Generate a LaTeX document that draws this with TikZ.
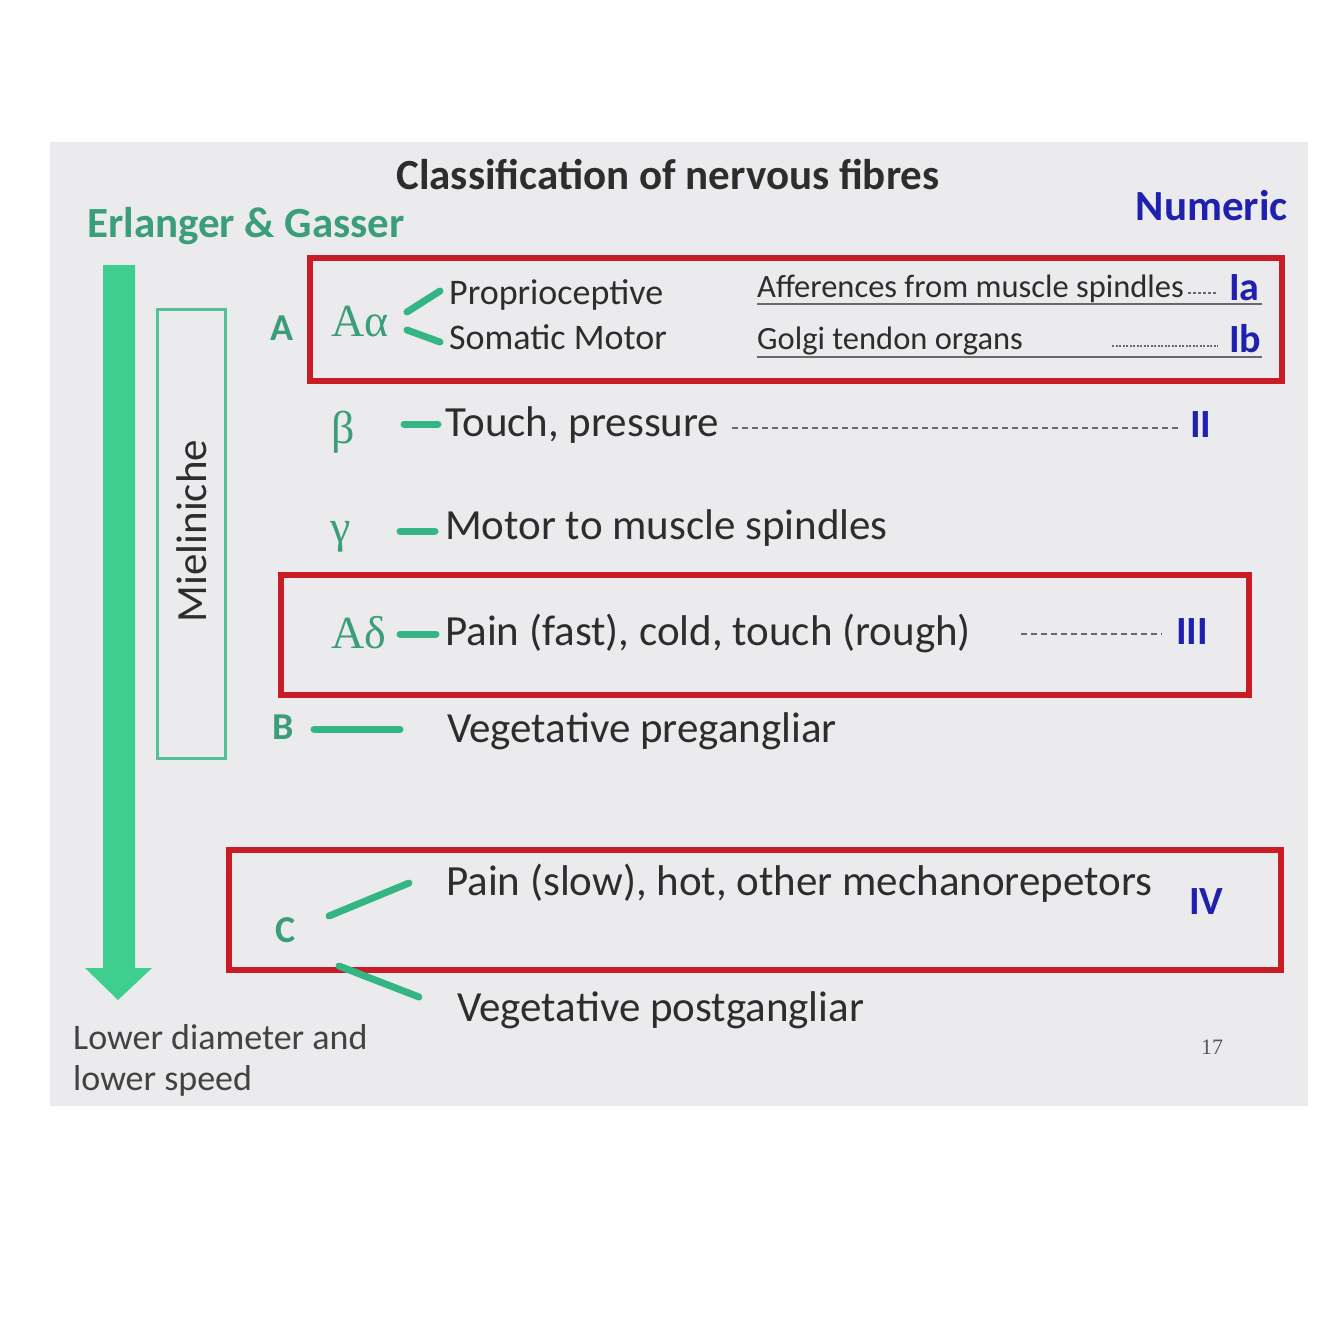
\documentclass[tikz,border=0pt]{standalone}
\usepackage{fontspec}
\setmainfont{Carlito}
\newfontfamily\grk{Liberation Serif}
\newfontfamily\pgnum{Liberation Serif}
\definecolor{slidebg}{RGB}{235,235,237}
\definecolor{arrowgreen}{RGB}{62,207,142}
\definecolor{txtgreen}{RGB}{58,158,122}
\definecolor{strokegreen}{RGB}{52,182,132}
\definecolor{boxred}{RGB}{200,28,38}
\definecolor{numblue}{RGB}{32,32,175}
\definecolor{txtdark}{RGB}{45,45,45}
\definecolor{dashgray}{RGB}{105,105,105}
\tikzset{
  redbox/.style={draw=boxred, line width=5.5pt},
  tick/.style={draw=strokegreen, line width=7pt, line cap=round},
  lbl/.style={inner sep=0pt, anchor=west, text=txtdark, font=\fontsize{43}{46}\selectfont},
  smlbl/.style={inner sep=0pt, anchor=west, text=txtdark, font=\fontsize{36}{40}\selectfont},
  undl/.style={inner sep=0pt, anchor=west, text=txtdark, font=\fontsize{32.5}{36}\selectfont},
  grklbl/.style={inner sep=0pt, anchor=west, text=txtgreen, font=\grk\fontsize{46}{50}\selectfont},
  grnlbl/.style={inner sep=0pt, anchor=west, text=txtgreen, font=\bfseries\fontsize{38}{42}\selectfont},
  numlbl/.style={inner sep=0pt, anchor=west, text=numblue, font=\bfseries\fontsize{40}{44}\selectfont},
  dashln/.style={draw=dashgray, line width=2.5pt, dash pattern=on 6pt off 4pt},
  undline/.style={draw=dashgray, line width=1.8pt}
}
\begin{document}
\begin{tikzpicture}[x=1pt,y=-1pt]
\useasboundingbox (0,0) rectangle (1334,1334);
\fill[white] (0,0) rectangle (1334,1334);
\fill[slidebg] (50,142) rectangle (1308,1106);

% titles
\node[inner sep=0pt, text=txtdark, font=\bfseries\fontsize{43}{46}\selectfont] (title) at (668,175) {Classification of nervous fibres};
\node[inner sep=0pt, anchor=west, text=txtgreen, font=\bfseries\fontsize{43}{46}\selectfont] (eg) at (87,226) {Erlanger \& Gasser};
\node[inner sep=0pt, anchor=east, text=numblue, font=\bfseries\fontsize{43}{46}\selectfont] (numeric) at (1288,206) {Numeric};

% big arrow
\fill[arrowgreen] (103,265) -- (135,265) -- (135,968) -- (152,968) -- (118,1000) -- (85,968) -- (103,968) -- cycle;

% Mieliniche box
\node[draw=strokegreen!85, line width=3pt, minimum width=68pt, minimum height=449pt, inner sep=0pt] (miel) at (191,533.5) {};
\node[rotate=90, inner sep=0pt, text=txtdark, font=\fontsize{43}{46}\selectfont] (mieltxt) at (192,531) {Mieliniche};

% red boxes
\draw[redbox] (310,258) rectangle (1282,381);
\draw[redbox] (281,575) rectangle (1249,695);
\draw[redbox] (229,850) rectangle (1281,970);

% Row A alpha
\node[grnlbl] (A) at (270,328) {A};
\node[grklbl] (Aa) at (331,322) {Aα};
\coordinate (aa1) at (407,312);
\coordinate (aa2) at (440,291);
\coordinate (aa3) at (407,330);
\coordinate (aa4) at (440,342);
\draw[tick] (aa1) -- (aa2);
\draw[tick] (aa3) -- (aa4);
\node[smlbl] (prop) at (449,295) {Proprioceptive};
\node[smlbl] (som) at (449,337) {Somatic Motor};
\node[undl] (aff) at (757,289) {Afferences from muscle spindles};
\node[undl] (golgi) at (757,341) {Golgi tendon organs};
\coordinate (u1a) at (757,304);
\coordinate (u1b) at (1262,304);
\coordinate (u2a) at (757,357);
\coordinate (u2b) at (1262,357);
\draw[undline] (u1a) -- (u1b);
\draw[undline] (u2a) -- (u2b);
\coordinate (d1a) at (1188,293);
\coordinate (d1b) at (1218,293);
\draw[dashgray, line width=1.8pt, dash pattern=on 3pt off 2pt] (d1a) -- (d1b);
\coordinate (d2a) at (1112,346);
\coordinate (d2b) at (1218,346);
\draw[dashgray, line width=1.5pt, dash pattern=on 2pt off 1.5pt] (d2a) -- (d2b);
\node[numlbl] (Ia) at (1229,288) {Ia};
\node[numlbl] (Ib) at (1229,339) {Ib};

% Row beta
\node[grklbl] (beta) at (331,432) {β};
\coordinate (b1) at (404,424);
\coordinate (b2) at (438,424);
\draw[tick] (b1) -- (b2);
\node[lbl] (touch) at (445,425) {Touch, pressure};
\coordinate (db1) at (732,428);
\coordinate (db2) at (1180,428);
\draw[dashln] (db1) -- (db2);
\node[numlbl] (II) at (1190,425) {II};

% Row gamma
\node[grklbl] (gamma) at (330,537) {γ};
\coordinate (g1) at (400,531);
\coordinate (g2) at (435,531);
\draw[tick] (g1) -- (g2);
\node[lbl] (motor) at (445,528) {Motor to muscle spindles};

% Row A delta
\node[grklbl] (Ad) at (331,633) {Aδ};
\coordinate (ad1) at (400,634);
\coordinate (ad2) at (436,634);
\draw[tick] (ad1) -- (ad2);
\node[lbl] (pain) at (445,633) {Pain (fast), cold, touch (rough)};
\coordinate (dd1) at (1021,634);
\coordinate (dd2) at (1162,634);
\draw[dashln] (dd1) -- (dd2);
\node[numlbl] (III) at (1176,632) {III};

% Row B
\node[grnlbl] (B) at (272,727) {B};
\coordinate (bb1) at (314,729);
\coordinate (bb2) at (400,729);
\draw[tick] (bb1) -- (bb2);
\node[lbl] (vegpre) at (447,731) {Vegetative pregangliar};

% Row C
\node[grnlbl] (C) at (275,930) {C};
\coordinate (c1) at (329,916);
\coordinate (c2) at (409,883);
\coordinate (c3) at (339,966);
\coordinate (c4) at (419,997);
\draw[tick] (c1) -- (c2);
\draw[tick] (c3) -- (c4);
\node[lbl] (painslow) at (446,883) {Pain (slow), hot, other mechanorepetors};
\node[numlbl] (IV) at (1189,902) {IV};
\node[lbl] (vegpost) at (457,1010) {Vegetative postgangliar};

% bottom
\node[inner sep=0pt, anchor=west, align=left, text=txtdark!90, font=\fontsize{36}{41}\selectfont] (lower) at (73,1060) {Lower diameter and\\lower speed};
\node[inner sep=0pt, text=txtdark!80, font=\pgnum\fontsize{22}{24}\selectfont] (pg) at (1212,1047) {17};
\end{tikzpicture}
\end{document}
